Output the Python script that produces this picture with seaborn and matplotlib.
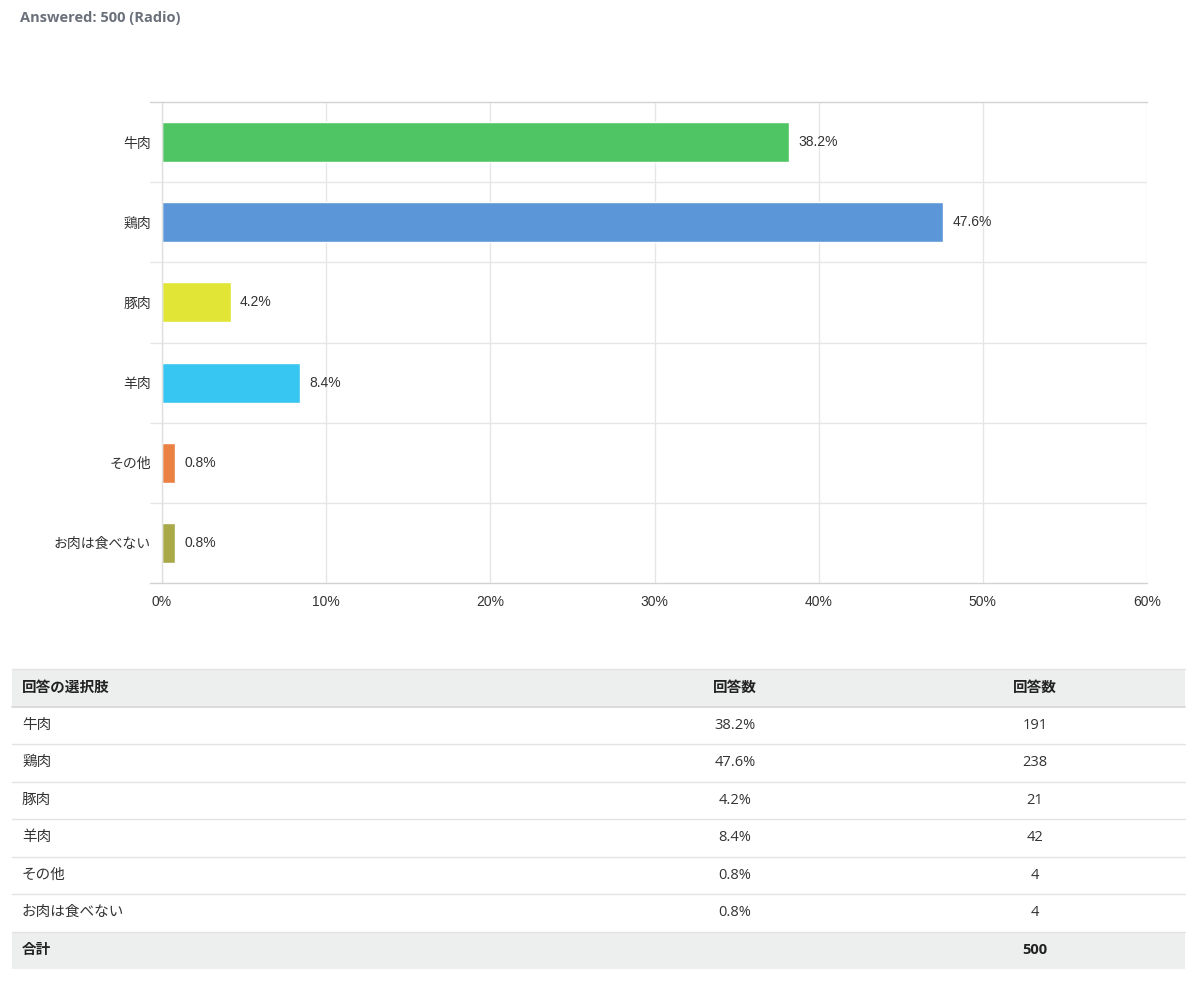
import matplotlib.pyplot as plt
import seaborn as sns
from matplotlib.patches import Rectangle
from matplotlib.ticker import FixedLocator, PercentFormatter

# chart data
categories = ['牛肉', '鶏肉', '豚肉', '羊肉', 'その他', 'お肉は食べない']
percents = [38.2, 47.6, 4.2, 8.4, 0.8, 0.8]
counts = [191, 238, 21, 42, 4, 4]
colors = ['#4fc564', '#5b96d8', '#e1e535', '#37c6f1', '#ea8042', '#a9a94a']
total = 500
x_ticks = [0, 10, 20, 30, 40, 50, 60]

# table labels
table_headers = ['回答の選択肢', '回答数', '回答数']
total_label = '合計'
header_text = 'Answered: 500 (Radio)'

sns.set_theme(style='white')
chart_font = ['Liberation Sans', 'Noto Sans CJK JP', 'DejaVu Sans']
plt.rcParams['font.family'] = chart_font

W, H = 1195, 982
fig = plt.figure(figsize=(W / 100, H / 100), dpi=100)

# full-figure overlay in pixel coordinates for header text and the table
bg = fig.add_axes([0, 0, 1, 1], zorder=0)
bg.set_xlim(0, W)
bg.set_ylim(H, 0)
bg.axis('off')

bg.text(20, 18, header_text, fontsize=10.5, fontweight='bold', color='#6b717a',
        va='center', ha='left', family=['Open Sans', 'DejaVu Sans'])

# bar chart
ax = fig.add_axes([162 / W, 1 - 583 / H, (1147 - 162) / W, (583 - 102) / H], zorder=1)
sns.barplot(x=percents, y=categories, hue=categories, palette=colors, legend=False,
            orient='h', width=0.5, saturation=1, ax=ax)
ax.set_xlim(0, 60)
ax.set_ylim(len(categories) - 0.5, -0.5)
ax.xaxis.set_major_locator(FixedLocator(x_ticks))
ax.xaxis.set_major_formatter(PercentFormatter(decimals=0))
ax.set_xlabel('')
ax.set_ylabel('')
ax.grid(axis='x', color='#e6e6e6', linewidth=1)
ax.yaxis.set_minor_locator(FixedLocator([i - 0.5 for i in range(1, len(categories))]))
ax.grid(axis='y', which='minor', color='#e6e6e6', linewidth=1)
ax.tick_params(axis='y', which='minor', length=8.6, color='#e6e6e6', width=1, left=True)
ax.tick_params(axis='y', which='major', length=0, pad=8, labelsize=10, labelcolor='#333333')
ax.tick_params(axis='x', length=0, pad=9, labelsize=10, labelcolor='#333333')
ax.spines['right'].set_visible(False)
ax.spines['left'].set_color('#e0e0e0')
for s in ['top', 'bottom']:
    ax.spines[s].set_color('#d2d2d2')
    ax.spines[s].set_linewidth(1)
    ax.spines[s].set_bounds(-12 / 985 * 60, 60)
    ax.spines[s].set_clip_on(False)
ax.spines['left'].set_linewidth(1)
ax.set_axisbelow(True)
for bar, p in zip(ax.patches, percents):
    ax.annotate(f'{p}%', (bar.get_width(), bar.get_y() + bar.get_height() / 2),
                xytext=(6.5, 0), textcoords='offset points', va='center', ha='left',
                fontsize=10, color='#333333')

# table
tfont = ['Open Sans', 'Noto Sans CJK JP', 'DejaVu Sans']
left, right = 12, 1185
row_h = 37.5
top = 669
col2, col3 = 735, 1035
line_col = '#e3e3e3'

bg.add_patch(Rectangle((left, top), right - left, row_h, color='#edeeee', lw=0))
bg.plot([left, right], [top, top], color=line_col, lw=1)
bg.plot([left, right], [top + row_h, top + row_h], color='#d6d6d6', lw=1.2)
y = top + row_h / 2
bg.text(22, y, table_headers[0], fontsize=10.5, fontweight='bold', va='center', color='#222222', family=tfont)
bg.text(col2, y, table_headers[1], fontsize=10.5, fontweight='bold', va='center', ha='center', color='#222222', family=tfont)
bg.text(col3, y, table_headers[2], fontsize=10.5, fontweight='bold', va='center', ha='center', color='#222222', family=tfont)

for i, (c, p, n) in enumerate(zip(categories, percents, counts)):
    y0 = top + row_h * (i + 1)
    yc = y0 + row_h / 2
    bg.text(22, yc, c, fontsize=10.5, va='center', color='#333333', family=tfont)
    bg.text(col2, yc, f'{p}%', fontsize=10.5, va='center', ha='center', color='#333333', family=tfont)
    bg.text(col3, yc, str(n), fontsize=10.5, va='center', ha='center', color='#333333', family=tfont)
    bg.plot([left, right], [y0 + row_h, y0 + row_h], color=line_col, lw=1)

y0 = top + row_h * (len(categories) + 1)
bg.add_patch(Rectangle((left, y0), right - left, row_h, color='#edeeee', lw=0))
yc = y0 + row_h / 2
bg.text(22, yc, total_label, fontsize=10.5, fontweight='bold', va='center', color='#222222', family=tfont)
bg.text(col3, yc, str(total), fontsize=10.5, fontweight='bold', va='center', ha='center', color='#222222', family=tfont)

fig.savefig('out.png', dpi=100)
